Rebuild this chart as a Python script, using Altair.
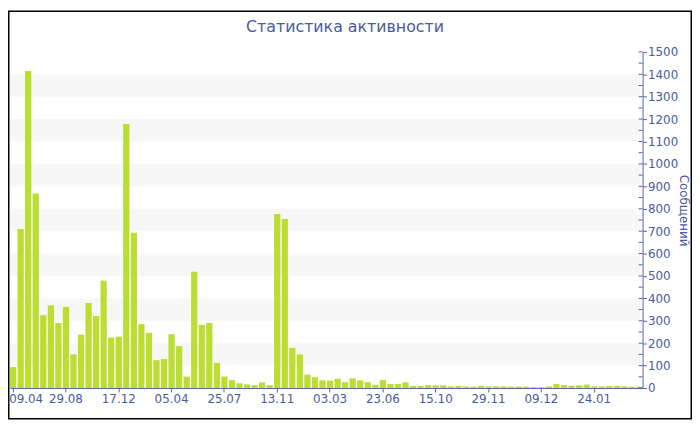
import altair as alt
import pandas as pd

# Message counts per period
values = [93, 710, 1415, 868, 325, 369, 290, 362, 150, 238,
          379, 321, 479, 225, 229, 1178, 693, 285, 246, 124,
          129, 240, 187, 51, 519, 282, 290, 112, 51, 35,
          21, 16, 13, 25, 13, 776, 754, 179, 150, 60,
          48, 34, 33, 41, 26, 43, 34, 26, 14, 35,
          18, 18, 25, 9, 9, 13, 12, 12, 7, 9,
          7, 6, 10, 7, 7, 7, 6, 6, 6, 4,
          4, 7, 18, 13, 10, 12, 15, 7, 7, 9,
          9, 7, 6, 6]
tick_labels = ["09.04", "29.08", "17.12", "05.04", "25.07", "13.11",
               "03.03", "23.06", "15.10", "29.11", "09.12", "24.01"]
tick_positions = [0, 7, 14, 21, 28, 35, 42, 49, 56, 63, 70, 77]
band_starts = [100, 300, 500, 700, 900, 1100, 1300]
y_ticks = list(range(0, 1501, 100))
minor_ticks = list(range(0, 1501, 50))

TEXT = "#4a5a9e"
LINE = "#5264a8"
FONT = "DejaVu Sans"
W, H = 640, 340
PAD = {"left": 2, "top": 42, "right": 50, "bottom": 32}
TOTAL_W = PAD["left"] + W + PAD["right"]
TOTAL_H = PAD["top"] + H + PAD["bottom"]

bars_df = pd.DataFrame({"idx": list(range(len(values))), "count": values})
bands_df = pd.DataFrame({"y0": band_starts, "y1": [b + 100 for b in band_starts]})
minor_df = pd.DataFrame({"v": minor_ticks})

yscale = alt.Scale(domain=[0, 1500], nice=False, zero=True)

label_array = "[" + ",".join("'" + t + "'" for t in tick_labels) + "]"

y_axis = alt.Axis(orient="right", values=y_ticks, grid=False,
                  format="d", labelOverlap=False,
                  title="Сообщений", titleAngle=90,
                  titleFont=FONT, titleFontSize=12,
                  titleFontWeight="normal", titleColor=TEXT,
                  titleX=41, titleY=160, titleAlign="center",
                  titleBaseline="middle",
                  labelFont=FONT, labelFontSize=12,
                  labelColor=TEXT, domainColor=LINE,
                  tickColor=LINE, tickSize=4, labelPadding=1)

bands = alt.Chart(bands_df).mark_rect(color="#f7f7f7").encode(
    y=alt.Y("y0:Q", scale=yscale, axis=y_axis),
    y2="y1:Q",
    x=alt.value(0),
    x2=alt.value(W - 2),
)

bars = alt.Chart(bars_df).mark_bar(color="#bcdd31").encode(
    x=alt.X("idx:O",
            scale=alt.Scale(paddingInner=0.17, paddingOuter=0),
            axis=alt.Axis(values=tick_positions,
                          labelExpr=label_array + "[datum.value / 7]",
                          labelAngle=0, title=None, labelFont=FONT,
                          labelFontSize=12, labelColor=TEXT,
                          labelAlign={"condition": {"test": "datum.value === 0", "value": "left"},
                                      "value": "center"},
                          labelOffset={"condition": {"test": "datum.value === 0", "value": -4},
                                       "value": 0},
                          labelOverlap=False, grid=False,
                          domainColor=LINE, tickColor=LINE, tickSize=4,
                          labelPadding=2)),
    y=alt.Y("count:Q", scale=yscale, axis=y_axis),
)

minor = alt.Chart(minor_df).mark_rule(color=LINE, strokeWidth=1).encode(
    y=alt.Y("v:Q", scale=yscale, axis=y_axis),
    x=alt.value(W - 4),
    x2=alt.value(W),
)

frame = alt.Chart(bands_df.head(1)).mark_rect(
    fill="transparent", stroke="#000000", strokeWidth=1.5
).encode(
    x=alt.value(-PAD["left"] + 0.75),
    x2=alt.value(TOTAL_W - PAD["left"] - 0.75),
    y=alt.value(-PAD["top"] + 0.75),
    y2=alt.value(TOTAL_H - PAD["top"] - 0.75),
)

chart = alt.layer(bands, bars, minor, frame).properties(
    width=W,
    height=H,
    background="white",
    title=alt.Title("Статистика активности", font=FONT, fontSize=16,
                    fontWeight="normal", color=TEXT, offset=0,
                    baseline="alphabetic", dx=19, dy=37.5, anchor="middle"),
    autosize=alt.AutoSizeParams(type="none"),
    padding=PAD,
).configure_view(strokeWidth=0, stroke="transparent").configure_axis(
    grid=False
)

chart.save("out.html", embed_options={"renderer": "svg", "actions": False})
